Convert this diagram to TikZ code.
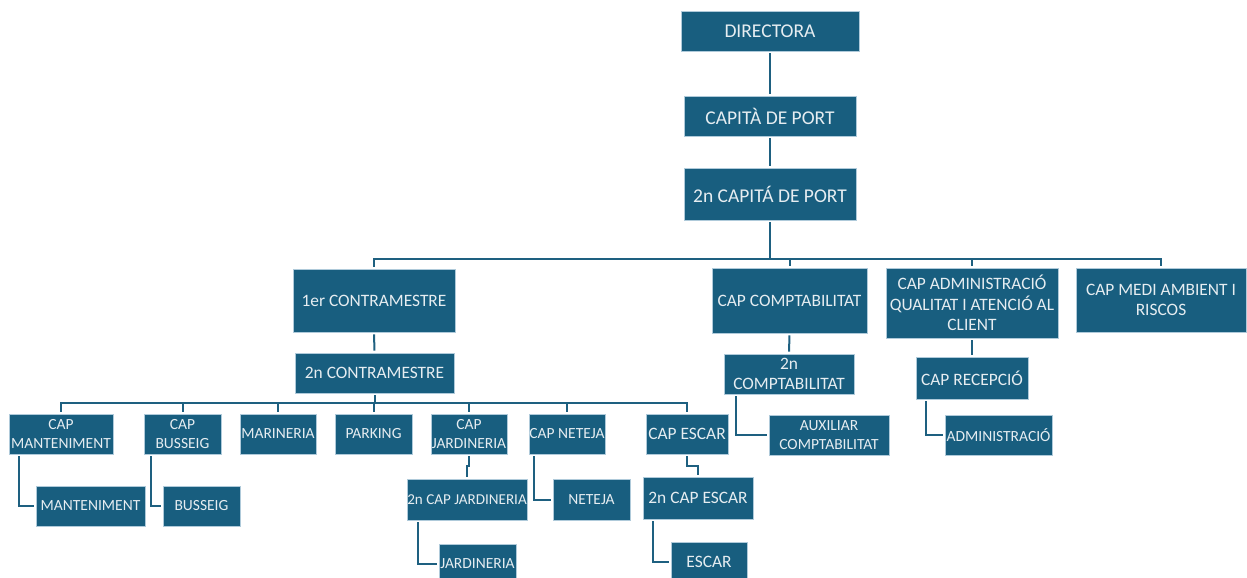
\documentclass[tikz,border=0pt]{standalone}
\usepackage{fontspec}
\setmainfont{Carlito}
\definecolor{boxblue}{RGB}{24,94,127}
\definecolor{lineblue}{RGB}{30,96,128}
\definecolor{edgeblue}{RGB}{175,202,218}
\definecolor{txt}{RGB}{230,237,241}
\begin{document}
\begin{tikzpicture}[x=1pt,y=-1pt,
  box/.style={rectangle, fill=boxblue, draw=edgeblue, line width=0.7pt, inner sep=0pt,
    text=txt, align=center},
  big/.style={box, font=\fontsize{19.5}{23.5}\selectfont},
  mid/.style={box, font=\fontsize{17.4}{20.6}\selectfont},
  sml/.style={box, font=\fontsize{15.5}{19}\selectfont},
  conn/.style={draw=lineblue, line width=2pt, shorten <=2pt, shorten >=2pt}]
\useasboundingbox (0,0) rectangle (1247,578);
% top
\node[big, minimum width=178pt, minimum height=40pt] (dir) at (770,31) {DIRECTORA};
\node[big, minimum width=172pt, minimum height=40pt] (cap) at (770,116) {CAPITÀ DE PORT};
\node[big, minimum width=172pt, minimum height=52pt] (cap2) at (770,194) {2n CAPITÁ DE PORT};
% level 2
\node[mid, minimum width=162pt, minimum height=63pt] (c1) at (374,300.5) {1er CONTRAMESTRE};
\node[mid, minimum width=155pt, minimum height=65pt] (comp) at (789.5,300.5) {CAP COMPTABILITAT};
\node[mid, minimum width=172pt, minimum height=70pt] (adm) at (972,303) {CAP ADMINISTRACIÓ\\QUALITAT I ATENCIÓ AL\\CLIENT};
\node[mid, minimum width=170pt, minimum height=64pt] (medi) at (1161,300) {CAP MEDI AMBIENT I\\RISCOS};
% level 3
\node[mid, minimum width=159pt, minimum height=40pt] (c2) at (374.5,373) {2n CONTRAMESTRE};
\node[mid, minimum width=130pt, minimum height=40pt] (comp2) at (789,374) {2n\\COMPTABILITAT};
\node[mid, minimum width=112pt, minimum height=42pt] (recep) at (972,378) {CAP RECEPCIÓ};
\node[sml, minimum width=120pt, minimum height=40pt] (aux) at (829,435) {AUXILIAR\\COMPTABILITAT};
\node[sml, minimum width=107pt, minimum height=40pt] (admin2) at (998.5,435) {ADMINISTRACIÓ};
% level 4
\node[sml, minimum width=104pt, minimum height=40pt] (capm) at (61,434) {CAP\\MANTENIMENT};
\node[sml, minimum width=77pt, minimum height=40pt] (capb) at (182.5,434) {CAP\\BUSSEIG};
\node[sml, minimum width=76pt, minimum height=40pt] (mar) at (278,434) {MARINERIA};
\node[sml, minimum width=77pt, minimum height=40pt] (park) at (373.5,434) {PARKING};
\node[sml, minimum width=76pt, minimum height=40pt] (capj) at (469,434) {CAP\\JARDINERIA};
\node[sml, minimum width=76pt, minimum height=40pt] (capn) at (567,434) {CAP NETEJA};
\node[mid, minimum width=82pt, minimum height=40pt] (cape) at (687,434) {CAP ESCAR};
% level 5
\node[sml, minimum width=109pt, minimum height=40pt] (mant) at (90.5,506) {MANTENIMENT};
\node[sml, minimum width=77pt, minimum height=40pt] (buss) at (201.5,506) {BUSSEIG};
\node[sml, minimum width=120pt, minimum height=41pt, font=\fontsize{15.1}{18}\selectfont] (capj2) at (467,499.5) {2n CAP JARDINERIA};
\node[sml, minimum width=77pt, minimum height=41pt] (net) at (591.5,499.5) {NETEJA};
\node[mid, minimum width=110pt, minimum height=42pt] (cape2) at (698,498) {2n CAP ESCAR};
\node[sml, minimum width=77pt, minimum height=40pt] (jard) at (477.5,564) {JARDINERIA};
\node[mid, minimum width=76pt, minimum height=40pt] (escar) at (709,562) {ESCAR};
% connectors
\coordinate (barA) at (0,259);
\coordinate (barB) at (0,403);
\draw[conn] (dir.south) -- (cap.north);
\draw[conn] (cap.south) -- (cap2.north);
\draw[conn, shorten >=0pt] (cap2.south) -- (cap2.south |- barA);
\draw[conn] (c1.north) -- (c1.north |- barA) -- (medi.north |- barA) -- (medi.north);
\draw[conn, shorten <=0pt] (comp.north |- barA) -- (comp.north);
\draw[conn, shorten <=0pt] (adm.north |- barA) -- (adm.north);
\draw[conn] (c1.south) -- (c2.north);
\draw[conn, shorten >=0pt] (c2.south) -- (c2.south |- barB);
\draw[conn] (capm.north) -- (capm.north |- barB) -- (cape.north |- barB) -- (cape.north);
\draw[conn, shorten <=0pt] (capb.north |- barB) -- (capb.north);
\draw[conn, shorten <=0pt] (mar.north |- barB) -- (mar.north);
\draw[conn, shorten <=0pt] (park.north |- barB) -- (park.north);
\draw[conn, shorten <=0pt] (capj.north |- barB) -- (capj.north);
\draw[conn, shorten <=0pt] (capn.north |- barB) -- (capn.north);
\draw[conn] ([xshift=10pt]capm.south west) |- (mant.west);
\draw[conn] ([xshift=7pt]capb.south west) |- (buss.west);
\draw[conn] (capj.south) -- ++(0,12) -| (capj2.north);
\draw[conn] ([xshift=11pt]capj2.south west) |- (jard.west);
\draw[conn] ([xshift=5pt]capn.south west) |- (net.west);
\draw[conn] (cape.south) -- ++(0,12) -| (cape2.north);
\draw[conn] ([xshift=10pt]cape2.south west) |- (escar.west);
\draw[conn] (comp.south) -- (comp2.north);
\draw[conn] ([xshift=12pt]comp2.south west) |- (aux.west);
\draw[conn] (adm.south) -- (recep.north);
\draw[conn] ([xshift=10pt]recep.south west) |- (admin2.west);
\end{tikzpicture}
\end{document}
